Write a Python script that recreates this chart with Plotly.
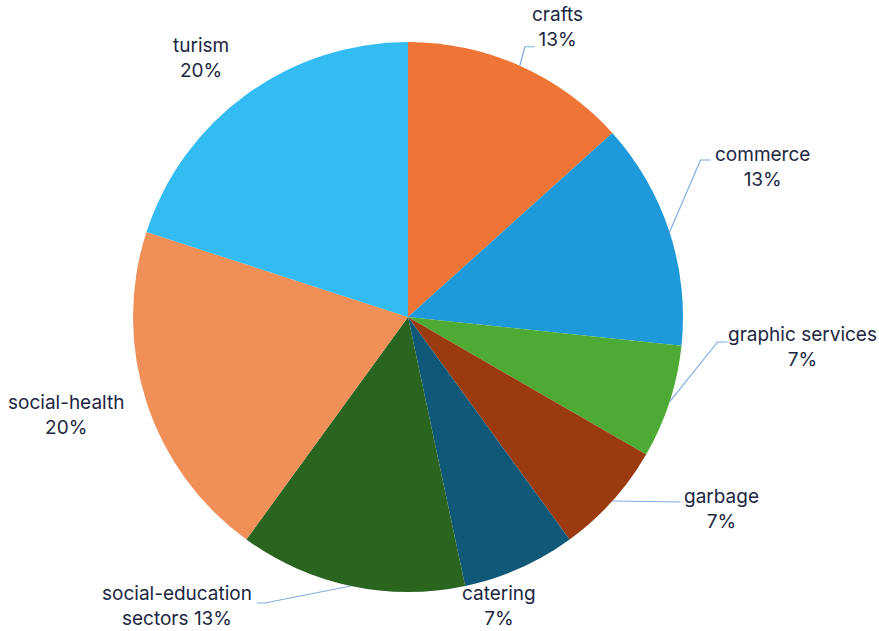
import math
import plotly.graph_objects as go

# ---- data ----
categories = ["crafts", "commerce", "graphic services", "garbage", "catering",
              "social-education sectors", "social-health", "turism"]
values = [2, 2, 1, 1, 1, 2, 3, 3]
label_texts = ["crafts<br>13%", "commerce<br>13%", "graphic services<br>7%", "garbage<br>7%",
               "catering<br>7%", "social-education<br>sectors 13%", "social-health<br>20%", "turism<br>20%"]

# ---- styling ----
colors = ["#EE7535", "#1E9ADA", "#4DAA35", "#9B3A0E", "#0F5878", "#2A6520", "#F08F58", "#33BCF2"]
# label offsets (px) from slice-mid point on the rim
label_offsets = [(38, -39), (93, -65), (133, -55), (109, 8), (-21, 38), (-174, 20), (-80, 13), (-45, -37)]
# leader line waypoints (px offsets from rim point); None = no line
leaders = [[(5, -19), (15, -19)], [(31, -72), (41, -72)], [(48, -60), (58, -60)], [(68, 1)], None,
           [(-86, 17), (-94, 17)], None, None]

W, H = 879, 631
CX, CY, R = 408, 317, 275
TEXT_COLOR = "#1B2742"
FONT = "Inter"

fig = go.Figure(go.Pie(
    labels=categories, values=values, sort=False, direction="clockwise", rotation=0,
    marker=dict(colors=colors, line=dict(width=0)),
    textinfo="none", hoverinfo="label+percent",
    domain=dict(x=[(CX - R) / W, (CX + R) / W], y=[1 - (CY + R) / H, 1 - (CY - R) / H]),
    showlegend=False,
))

total = sum(values)
cum = 0
annotations = []
shapes = []
for i, v in enumerate(values):
    mid = (cum + v / 2) / total * 2 * math.pi
    cum += v
    px = CX + R * math.sin(mid)
    py = CY - R * math.cos(mid)
    dx, dy = label_offsets[i]
    annotations.append(dict(
        x=(px + dx) / W, y=1 - (py + dy) / H, xref="paper", yref="paper",
        text=label_texts[i], showarrow=False, align="center",
        font=dict(family=FONT, size=19, color=TEXT_COLOR),
        xanchor="center", yanchor="middle",
    ))
    if leaders[i]:
        pts = [(px, py)] + [(px + ox, py + oy) for ox, oy in leaders[i]]
        path = "M " + " L ".join(f"{x / W},{1 - y / H}" for x, y in pts)
        shapes.append(dict(type="path", path=path, xref="paper", yref="paper",
                           line=dict(color="#7FAEE3", width=1.2)))

fig.update_layout(
    width=W, height=H, margin=dict(l=0, r=0, t=0, b=0),
    paper_bgcolor="white", plot_bgcolor="white",
    annotations=annotations, shapes=shapes,
)
fig.write_html("out.html", config={"displayModeBar": False},
               post_script="document.body.style.margin='0';document.body.style.overflow='hidden';")
